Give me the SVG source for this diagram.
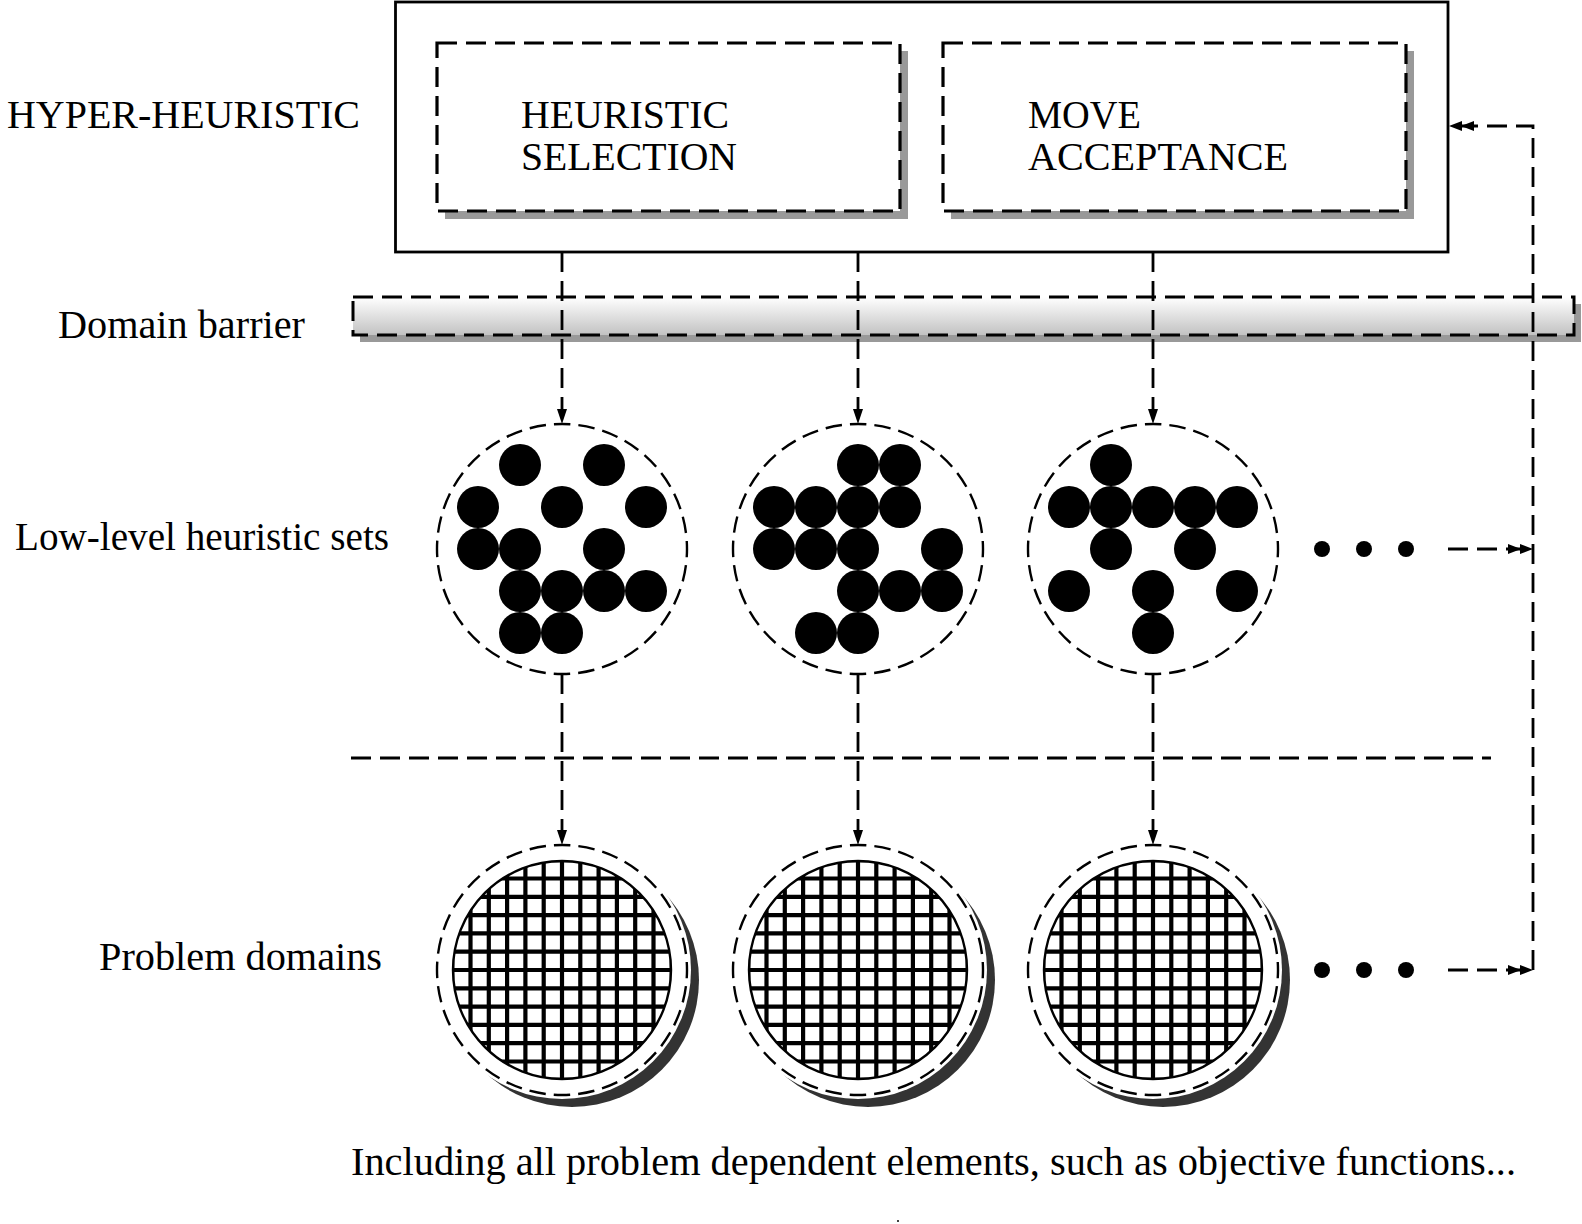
<svg xmlns="http://www.w3.org/2000/svg" xmlns:xlink="http://www.w3.org/1999/xlink" width="1582" height="1224" viewBox="0 0 1582 1224">
<style>
text{font-family:"Liberation Serif","Times New Roman",serif;font-size:40px;fill:#000}
.dbox{fill:#fff;stroke:#000;stroke-width:3.2;stroke-dasharray:20 9}
.shadow{fill:#999}
.dcirc{fill:#fff;stroke:#000;stroke-width:2.4;stroke-dasharray:16.5 8.04;stroke-dashoffset:8.25}
.dot{fill:#000}
.conn{fill:none;stroke:#000;stroke-width:2.8;stroke-dasharray:20 9}
</style>
<defs>
<linearGradient id="barGrad" x1="0" y1="0" x2="0" y2="1">
<stop offset="0" stop-color="#ffffff"/>
<stop offset="1" stop-color="#c2c2c2"/>
</linearGradient>
<marker id="arr" viewBox="-8 -7 18 14" refX="0" refY="0" markerWidth="18" markerHeight="14" markerUnits="userSpaceOnUse" orient="auto">
<path d="M8 0L-7 -5L-7 5Z" fill="#000"/>
</marker>
<marker id="arr2" viewBox="-24 -7 34 14" refX="0" refY="0" markerWidth="34" markerHeight="14" markerUnits="userSpaceOnUse" orient="auto">
<path d="M8 0L-5 -5L-5 5Z M-4 0L-17 -5L-17 5Z" fill="#000"/>
</marker>
<clipPath id="gclip"><circle cx="0" cy="0" r="109"/></clipPath>
<g id="grid">
<path clip-path="url(#gclip)" fill="none" stroke="#000" stroke-width="4.2" d="M-109.8 -115V115M-91.5 -115V115M-73.2 -115V115M-54.9 -115V115M-36.6 -115V115M-18.3 -115V115M0 -115V115M18.3 -115V115M36.6 -115V115M54.9 -115V115M73.2 -115V115M91.5 -115V115M109.8 -115V115M-115 -109.8H115M-115 -91.5H115M-115 -73.2H115M-115 -54.9H115M-115 -36.6H115M-115 -18.3H115M-115 0H115M-115 18.3H115M-115 36.6H115M-115 54.9H115M-115 73.2H115M-115 91.5H115M-115 109.8H115"/>
<circle cx="0" cy="0" r="109" fill="none" stroke="#000" stroke-width="2.4"/>
</g>
<g id="domain">
<circle cx="10" cy="10" r="127" fill="#333"/>
<circle cx="0" cy="0" r="129" fill="#fff"/>
<circle cx="0" cy="0" r="125" class="dcirc"/>
<use xlink:href="#grid"/>
</g>
</defs>

<rect width="1582" height="1224" fill="#fff"/>

<!-- labels -->
<g id="labels">
<text x="7" y="128" textLength="353" lengthAdjust="spacingAndGlyphs">HYPER-HEURISTIC</text>
<text x="58" y="338" textLength="247" lengthAdjust="spacingAndGlyphs">Domain barrier</text>
<text x="15" y="550" textLength="374" lengthAdjust="spacingAndGlyphs">Low-level heuristic sets</text>
<text x="99" y="970" textLength="283" lengthAdjust="spacingAndGlyphs">Problem domains</text>
<text x="351" y="1175" textLength="1165" lengthAdjust="spacingAndGlyphs">Including all problem dependent elements, such as objective functions...</text>
<circle cx="898" cy="1221" r="1" fill="#000"/>
</g>

<!-- domain barrier -->
<g id="barrier">
<rect class="shadow" x="360" y="304" width="1221" height="38"/>
<rect x="353" y="297" width="1221" height="38" fill="url(#barGrad)" stroke="#000" stroke-width="3" stroke-dasharray="20 9"/>
</g>

<!-- hyper-heuristic -->
<g id="hyper-heuristic">
<rect x="395.5" y="2" width="1052.5" height="250" fill="#fff" stroke="#000" stroke-width="2.8"/>
</g>
<g id="heuristic-selection">
<rect class="shadow" x="445" y="51" width="463" height="168"/>
<rect class="dbox" x="437" y="43" width="463" height="168"/>
<text x="521" y="128" textLength="208" lengthAdjust="spacingAndGlyphs">HEURISTIC</text>
<text x="521" y="170" textLength="216" lengthAdjust="spacingAndGlyphs">SELECTION</text>
</g>
<g id="move-acceptance">
<rect class="shadow" x="951" y="51" width="463" height="168"/>
<rect class="dbox" x="943" y="43" width="463" height="168"/>
<text x="1028" y="128" textLength="113" lengthAdjust="spacingAndGlyphs">MOVE</text>
<text x="1028" y="170" textLength="260" lengthAdjust="spacingAndGlyphs">ACCEPTANCE</text>
</g>

<!-- low-level heuristic sets -->
<g id="llh-set-1">
<circle class="dcirc" cx="562" cy="549" r="125"/>
<g class="dot">
<circle cx="520" cy="465" r="21"/><circle cx="604" cy="465" r="21"/>
<circle cx="478" cy="507" r="21"/><circle cx="562" cy="507" r="21"/><circle cx="646" cy="507" r="21"/>
<circle cx="478" cy="549" r="21"/><circle cx="520" cy="549" r="21"/><circle cx="604" cy="549" r="21"/>
<circle cx="520" cy="591" r="21"/><circle cx="562" cy="591" r="21"/><circle cx="604" cy="591" r="21"/><circle cx="646" cy="591" r="21"/>
<circle cx="520" cy="633" r="21"/><circle cx="562" cy="633" r="21"/>
</g>
</g>
<g id="llh-set-2">
<circle class="dcirc" cx="858" cy="549" r="125"/>
<g class="dot">
<circle cx="858" cy="465" r="21"/><circle cx="900" cy="465" r="21"/>
<circle cx="774" cy="507" r="21"/><circle cx="816" cy="507" r="21"/><circle cx="858" cy="507" r="21"/><circle cx="900" cy="507" r="21"/>
<circle cx="774" cy="549" r="21"/><circle cx="816" cy="549" r="21"/><circle cx="858" cy="549" r="21"/><circle cx="942" cy="549" r="21"/>
<circle cx="858" cy="591" r="21"/><circle cx="900" cy="591" r="21"/><circle cx="942" cy="591" r="21"/>
<circle cx="816" cy="633" r="21"/><circle cx="858" cy="633" r="21"/>
</g>
</g>
<g id="llh-set-3">
<circle class="dcirc" cx="1153" cy="549" r="125"/>
<g class="dot">
<circle cx="1111" cy="465" r="21"/>
<circle cx="1069" cy="507" r="21"/><circle cx="1111" cy="507" r="21"/><circle cx="1153" cy="507" r="21"/><circle cx="1195" cy="507" r="21"/><circle cx="1237" cy="507" r="21"/>
<circle cx="1111" cy="549" r="21"/><circle cx="1195" cy="549" r="21"/>
<circle cx="1069" cy="591" r="21"/><circle cx="1153" cy="591" r="21"/><circle cx="1237" cy="591" r="21"/>
<circle cx="1153" cy="633" r="21"/>
</g>
</g>
<g id="llh-more">
<circle class="dot" cx="1322" cy="549" r="8"/><circle class="dot" cx="1364" cy="549" r="8"/><circle class="dot" cx="1406" cy="549" r="8"/>
</g>

<!-- problem domains -->
<g id="domain-1"><use xlink:href="#domain" x="562" y="970"/></g>
<g id="domain-2"><use xlink:href="#domain" x="858" y="970"/></g>
<g id="domain-3"><use xlink:href="#domain" x="1153" y="970"/></g>
<g id="domain-more">
<circle class="dot" cx="1322" cy="970" r="8"/><circle class="dot" cx="1364" cy="970" r="8"/><circle class="dot" cx="1406" cy="970" r="8"/>
</g>

<!-- connectors -->
<g id="connectors">
<path class="conn" d="M562 252V416" marker-end="url(#arr)"/>
<path class="conn" d="M858 252V416" marker-end="url(#arr)"/>
<path class="conn" d="M1153 252V416" marker-end="url(#arr)"/>
<path class="conn" d="M562 674V837" marker-end="url(#arr)"/>
<path class="conn" d="M858 674V837" marker-end="url(#arr)"/>
<path class="conn" d="M1153 674V837" marker-end="url(#arr)"/>
<path class="conn" d="M351 758H1491"/>
<path class="conn" d="M1448 549H1525" marker-end="url(#arr2)"/>
<path class="conn" d="M1448 970H1525" marker-end="url(#arr2)"/>
<path class="conn" d="M1533 970V126H1457" marker-end="url(#arr2)"/>
</g>
</svg>
